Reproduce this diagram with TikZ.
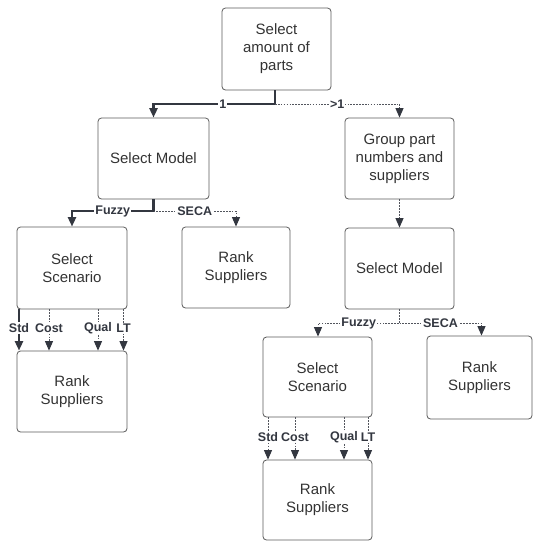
\documentclass[tikz,border=0pt]{standalone}
\usepackage{fontspec}
\setmainfont{Liberation Sans}
\usetikzlibrary{arrows.meta}
\definecolor{ln}{HTML}{333740}
\definecolor{bx}{HTML}{5A5A5A}
\begin{document}
\begin{tikzpicture}[x=1pt,y=-1pt,
  box/.style={draw=bx,line width=0.8pt,rounded corners=3.5pt,align=center,
    font=\fontsize{15}{18}\selectfont,text=black!80,inner sep=0pt},
  solidc/.style={draw=ln,line width=2.3pt},
  dotc/.style={draw=ln!85,line width=1pt,dash pattern=on 1.6pt off 1.3pt},
  tip/.style={-{Triangle[length=9.5pt,width=8pt,color=ln,fill=ln]}},
  lab/.style={fill=white,inner sep=1pt,font=\fontsize{12.5}{13}\selectfont\bfseries,text=ln}]
\useasboundingbox (0,0) rectangle (533,542);
% boxes
\node[box,minimum width=109pt,minimum height=82pt] (top) at (276.5,49) {Select\\amount of\\parts};
\node[box,minimum width=111pt,minimum height=81pt] (m1) at (153.5,158.5) {Select Model};
\node[box,minimum width=109pt,minimum height=81pt] (grp) at (399.5,158.5) {Group part\\numbers and\\suppliers};
\node[box,minimum width=110pt,minimum height=82pt] (sc1) at (72,268) {Select\\Scenario};
\node[box,minimum width=108pt,minimum height=81pt] (rk1) at (236,267.5) {Rank\\Suppliers};
\node[box,minimum width=109pt,minimum height=81pt] (m2) at (399.5,268.5) {Select Model};
\node[box,minimum width=110pt,minimum height=81pt] (rk0) at (72,391.5) {Rank\\Suppliers};
\node[box,minimum width=109pt,minimum height=80pt] (sc2) at (317.5,377) {Select\\Scenario};
\node[box,minimum width=105pt,minimum height=83pt] (rk2) at (479.5,377.5) {Rank\\Suppliers};
\node[box,minimum width=109pt,minimum height=80pt] (rk3) at (317.5,500) {Rank\\Suppliers};
% top branch
\coordinate (j1) at (275,104);
\draw[solidc,tip] (j1 |- top.south) -- (j1) -- node[lab,pos=0.43]{1} (j1 -| m1.north) -- (m1.north);
\draw[dotc,tip] (j1) -- node[lab,pos=0.5]{>1} (j1 -| grp.north) -- (grp.north);
\draw[dotc,tip] (grp.south) -- (m2.north);
% left select model
\coordinate (j2) at (153.5,211);
\draw[solidc,tip] (m1.south) -- (j2) -- node[lab]{Fuzzy} (j2 -| sc1.north) -- (sc1.north);
\draw[dotc,tip] (j2) -- node[lab]{SECA} (j2 -| rk1.north) -- (rk1.north);
% right select model
\coordinate (j3) at (399.5,323);
\coordinate (t2) at (318,0);
\coordinate (t3) at (481.5,0);
\draw[dotc,tip] (m2.south) -- (j3) -- node[lab]{Fuzzy} (j3 -| t2) -- (t2 |- sc2.north);
\draw[dotc,tip] (j3) -- node[lab]{SECA} (j3 -| t3) -- (t3 |- rk2.north);
% left scenario branches
\foreach \x/\t in {49/Cost,98/Qual,123.5/LT}{
  \coordinate (a) at (\x,0);
  \node[lab] (l\t) at (\x,328) {\t};
  \draw[dotc] (a |- sc1.south) -- (l\t.north);
  \draw[dotc,tip] (l\t.south) -- (a |- rk0.north);
}
\coordinate (a0) at (19,0);
\node[lab] (lStd) at (19,328) {Std};
\draw[solidc] (a0 |- sc1.south) -- (lStd.north);
\draw[solidc,tip] (lStd.south) -- (a0 |- rk0.north);
% right scenario branches
\foreach \x/\t in {268/Std,295/Cost,344/Qual,368/LT}{
  \coordinate (b) at (\x,0);
  \node[lab] (r\t) at (\x,437) {\t};
  \draw[dotc] (b |- sc2.south) -- (r\t.north);
  \draw[dotc,tip] (r\t.south) -- (b |- rk3.north);
}
\end{tikzpicture}
\end{document}
